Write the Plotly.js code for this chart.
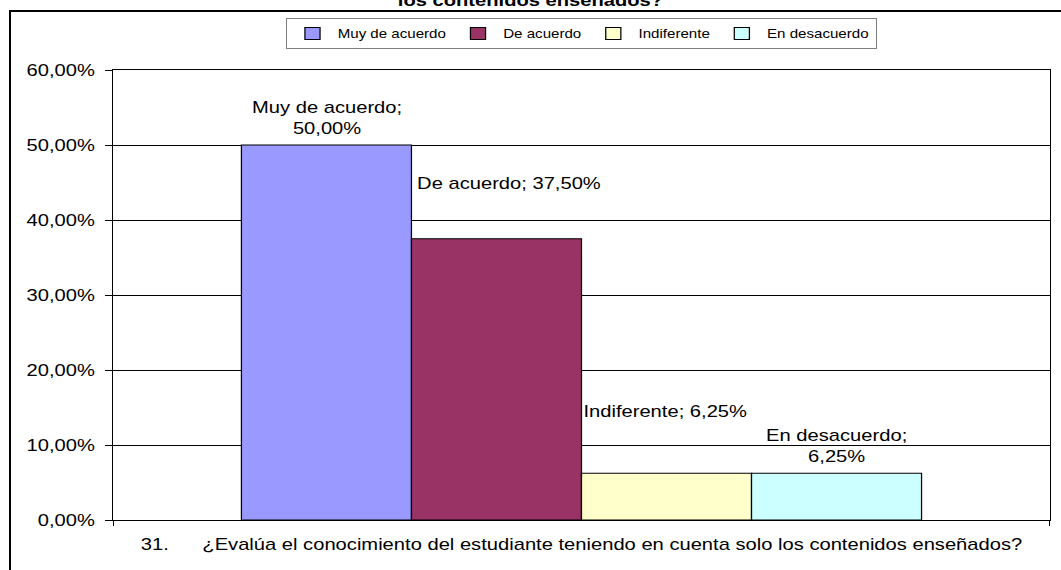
<!DOCTYPE html>
<html>
<head>
<meta charset="utf-8">
<script src="https://cdn.plot.ly/plotly-3.0.1.min.js"></script>
<style>
html,body{margin:0;padding:0;background:#fff;overflow:hidden;}
#chart{width:842px;height:570px;transform:scaleX(1.26);transform-origin:0 0;}
#frame{position:absolute;left:9px;top:10px;width:1200px;height:700px;border:2px solid #000;pointer-events:none;}
</style>
</head>
<body>
<div id="chart"></div>
<div id="frame"></div>
<script>
// Data
const category = ["31.\u00a0\u00a0\u00a0\u00a0\u00a0 ¿Evalúa el conocimiento del estudiante teniendo en cuenta solo los contenidos enseñados?"];
const seriesNames = ["Muy de acuerdo", "De acuerdo", "Indiferente", "En desacuerdo"];
const seriesValues = [0.50, 0.375, 0.0625, 0.0625];
const labelTexts = ["Muy de acuerdo;<br>50,00%", "De acuerdo; 37,50%", "Indiferente; 6,25%", "En desacuerdo;<br>6,25%"];
const chartTitle = "los contenidos enseñados?";

// Styles
const colors = ["#9999FF", "#993366", "#FFFFCC", "#CCFFFF"];
const labelXShift = [0, 10, -1, 0];   // extra px offsets of data labels
const labelYShift = [6, 45, 51, 6];

const FONT = "Liberation Sans, Arial, sans-serif";
const W = 842, H = 570;
const margin = {l:90, r:9, t:70, b:50};
const bargap = 0.2735;
const plotW = W - margin.l - margin.r;
const barW = plotW * (1 - bargap) / seriesNames.length;

const traces = seriesNames.map((n, i) => ({
  type: "bar",
  name: n,
  x: category,
  y: [seriesValues[i]],
  marker: {color: colors[i], line: {color: "#000", width: 1}},
  hoverinfo: "none"
}));

const annotations = seriesNames.map((n, i) => ({
  xref: "x", yref: "y",
  x: category[0], y: seriesValues[i],
  xshift: (i - (seriesNames.length - 1) / 2) * barW + labelXShift[i],
  yshift: labelYShift[i],
  yanchor: "bottom", xanchor: "center",
  text: labelTexts[i],
  showarrow: false,
  align: "center",
  font: {family: FONT, size: 16, color: "#000"}
}));

const layout = {
  width: W, height: H,
  margin: margin,
  paper_bgcolor: "#fff", plot_bgcolor: "#fff",
  font: {family: FONT, size: 16, color: "#000"},
  title: {text: "<b>" + chartTitle + "</b>", x: 0.5, xref: "container", y: 1.0, yref: "container", yanchor: "middle",
          font: {family: FONT, size: 16, color: "#000"}},
  barmode: "group",
  bargap: bargap,
  bargroupgap: 0,
  showlegend: true,
  legend: {orientation: "h", x: 0.5, xanchor: "center", y: 1.1156, yanchor: "top",
           bordercolor: "#808080", borderwidth: 1, bgcolor: "#fff",
           font: {family: FONT, size: 12, color: "#000"}, itemwidth: 30, tracegroupgap: 0,
           traceorder: "normal"},
  xaxis: {type: "category", showline: true, linecolor: "#000", linewidth: 1, mirror: true,
          ticks: "outside", tickson: "boundaries", ticklen: 5, tickcolor: "#000", ticklabelstandoff: 10,
          showgrid: false, zeroline: false, tickfont: {family: FONT, size: 16}, fixedrange: true},
  yaxis: {range: [0, 0.6], dtick: 0.1, tick0: 0, tickformat: ".2%", showline: true, linecolor: "#000", linewidth: 1.5,
          mirror: true, ticks: "outside", ticklen: 5, tickcolor: "#000", ticklabelstandoff: 5,
          showgrid: true, gridcolor: "#000", gridwidth: 1,
          zeroline: false, tickfont: {family: FONT, size: 16}, fixedrange: true},
  separators: ",.",
  annotations: annotations
};

Plotly.newPlot("chart", traces, layout, {displayModeBar: false, staticPlot: true});
</script>
</body>
</html>
